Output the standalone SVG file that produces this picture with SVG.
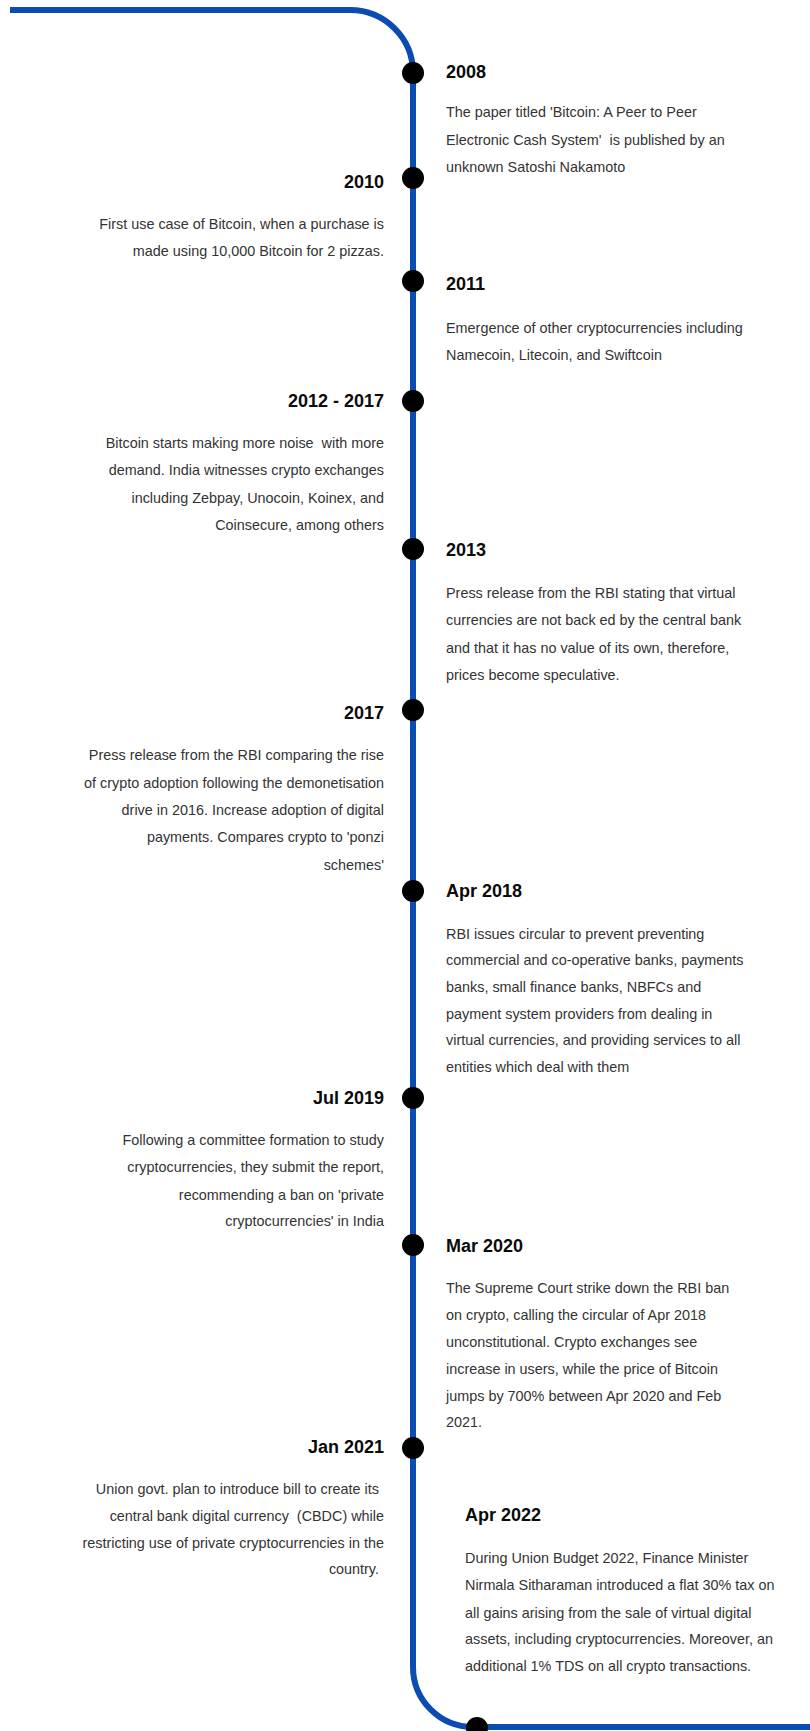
<svg xmlns="http://www.w3.org/2000/svg" width="810" height="1731" viewBox="0 0 810 1731">
<style>
.bg{fill:#ffffff}
.line{fill:none;stroke:#0a4cb2;stroke-width:6}
.dot{fill:#000000}
.title{font-family:"Liberation Sans",Arial,sans-serif;font-size:18px;font-weight:bold;fill:#0a0a0a}
.body{font-family:"Liberation Sans",Arial,sans-serif;font-size:14.4px;fill:#333333;white-space:pre}
.r{text-anchor:end}
</style>
<rect class="bg" x="0" y="0" width="810" height="1731"/>
<g id="connectors">
<path class="line" d="M10,10 H350 A63,63 0 0 1 413,73 V1667 A60,60 0 0 0 473,1727 H810"/>
</g>
<g id="n2008">
<circle class="dot" cx="413" cy="73" r="11"/>
<text class="title" x="446" y="78">2008</text>
<text class="body" x="446" y="117">The paper titled 'Bitcoin: A Peer to Peer</text>
<text class="body" x="446" y="144.5">Electronic Cash System'  is published by an</text>
<text class="body" x="446" y="171.5">unknown Satoshi Nakamoto</text>
</g>
<g id="n2010">
<circle class="dot" cx="413" cy="178" r="11"/>
<text class="title r" x="384" y="188">2010</text>
<text class="body r" x="384" y="229">First use case of Bitcoin, when a purchase is</text>
<text class="body r" x="384" y="256">made using 10,000 Bitcoin for 2 pizzas.</text>
</g>
<g id="n2011">
<circle class="dot" cx="413" cy="281" r="11"/>
<text class="title" x="446" y="289.5">2011</text>
<text class="body" x="446" y="332.5">Emergence of other cryptocurrencies including</text>
<text class="body" x="446" y="360">Namecoin, Litecoin, and Swiftcoin</text>
</g>
<g id="n2012">
<circle class="dot" cx="413" cy="401" r="11"/>
<text class="title r" x="384" y="406.5">2012 - 2017</text>
<text class="body r" x="384" y="448">Bitcoin starts making more noise  with more</text>
<text class="body r" x="384" y="475">demand. India witnesses crypto exchanges</text>
<text class="body r" x="384" y="502.5">including Zebpay, Unocoin, Koinex, and</text>
<text class="body r" x="384" y="530">Coinsecure, among others</text>
</g>
<g id="n2013">
<circle class="dot" cx="413" cy="549" r="11"/>
<text class="title" x="446" y="555.5">2013</text>
<text class="body" x="446" y="597.5">Press release from the RBI stating that virtual</text>
<text class="body" x="446" y="625">currencies are not back ed by the central bank</text>
<text class="body" x="446" y="652.5">and that it has no value of its own, therefore,</text>
<text class="body" x="446" y="680">prices become speculative.</text>
</g>
<g id="n2017">
<circle class="dot" cx="413" cy="710" r="11"/>
<text class="title r" x="384" y="719">2017</text>
<text class="body r" x="384" y="759.5">Press release from the RBI comparing the rise</text>
<text class="body r" x="384" y="787.5">of crypto adoption following the demonetisation</text>
<text class="body r" x="384" y="814.5">drive in 2016. Increase adoption of digital</text>
<text class="body r" x="384" y="842">payments. Compares crypto to 'ponzi</text>
<text class="body r" x="384" y="869.5">schemes'</text>
</g>
<g id="apr2018">
<circle class="dot" cx="413" cy="891" r="11"/>
<text class="title" x="446" y="896.5">Apr 2018</text>
<text class="body" x="446" y="938.5">RBI issues circular to prevent preventing</text>
<text class="body" x="446" y="965">commercial and co-operative banks, payments</text>
<text class="body" x="446" y="991.5">banks, small finance banks, NBFCs and</text>
<text class="body" x="446" y="1018.5">payment system providers from dealing in</text>
<text class="body" x="446" y="1045">virtual currencies, and providing services to all</text>
<text class="body" x="446" y="1072">entities which deal with them</text>
</g>
<g id="jul2019">
<circle class="dot" cx="413" cy="1098" r="11"/>
<text class="title r" x="384" y="1103.5">Jul 2019</text>
<text class="body r" x="384" y="1144.5">Following a committee formation to study</text>
<text class="body r" x="384" y="1172">cryptocurrencies, they submit the report,</text>
<text class="body r" x="384" y="1199.5">recommending a ban on 'private</text>
<text class="body r" x="384" y="1226">cryptocurrencies' in India</text>
</g>
<g id="mar2020">
<circle class="dot" cx="413" cy="1245" r="11"/>
<text class="title" x="446" y="1251.5">Mar 2020</text>
<text class="body" x="446" y="1292.5">The Supreme Court strike down the RBI ban</text>
<text class="body" x="446" y="1320">on crypto, calling the circular of Apr 2018</text>
<text class="body" x="446" y="1347">unconstitutional. Crypto exchanges see</text>
<text class="body" x="446" y="1373.5">increase in users, while the price of Bitcoin</text>
<text class="body" x="446" y="1401">jumps by 700% between Apr 2020 and Feb</text>
<text class="body" x="446" y="1427">2021.</text>
</g>
<g id="jan2021">
<circle class="dot" cx="413" cy="1448" r="11"/>
<text class="title r" x="384" y="1453">Jan 2021</text>
<text class="body r" x="379" y="1493.5">Union govt. plan to introduce bill to create its</text>
<text class="body r" x="384" y="1521">central bank digital currency  (CBDC) while</text>
<text class="body r" x="384" y="1547.5">restricting use of private cryptocurrencies in the</text>
<text class="body r" x="379" y="1574">country.</text>
</g>
<g id="apr2022">
<circle class="dot" cx="477" cy="1728" r="11"/>
<text class="title" x="465" y="1521">Apr 2022</text>
<text class="body" x="465" y="1563">During Union Budget 2022, Finance Minister</text>
<text class="body" x="465" y="1590">Nirmala Sitharaman introduced a flat 30% tax on</text>
<text class="body" x="465" y="1617.5">all gains arising from the sale of virtual digital</text>
<text class="body" x="465" y="1644">assets, including cryptocurrencies. Moreover, an</text>
<text class="body" x="465" y="1671">additional 1% TDS on all crypto transactions.</text>
</g>
</svg>
